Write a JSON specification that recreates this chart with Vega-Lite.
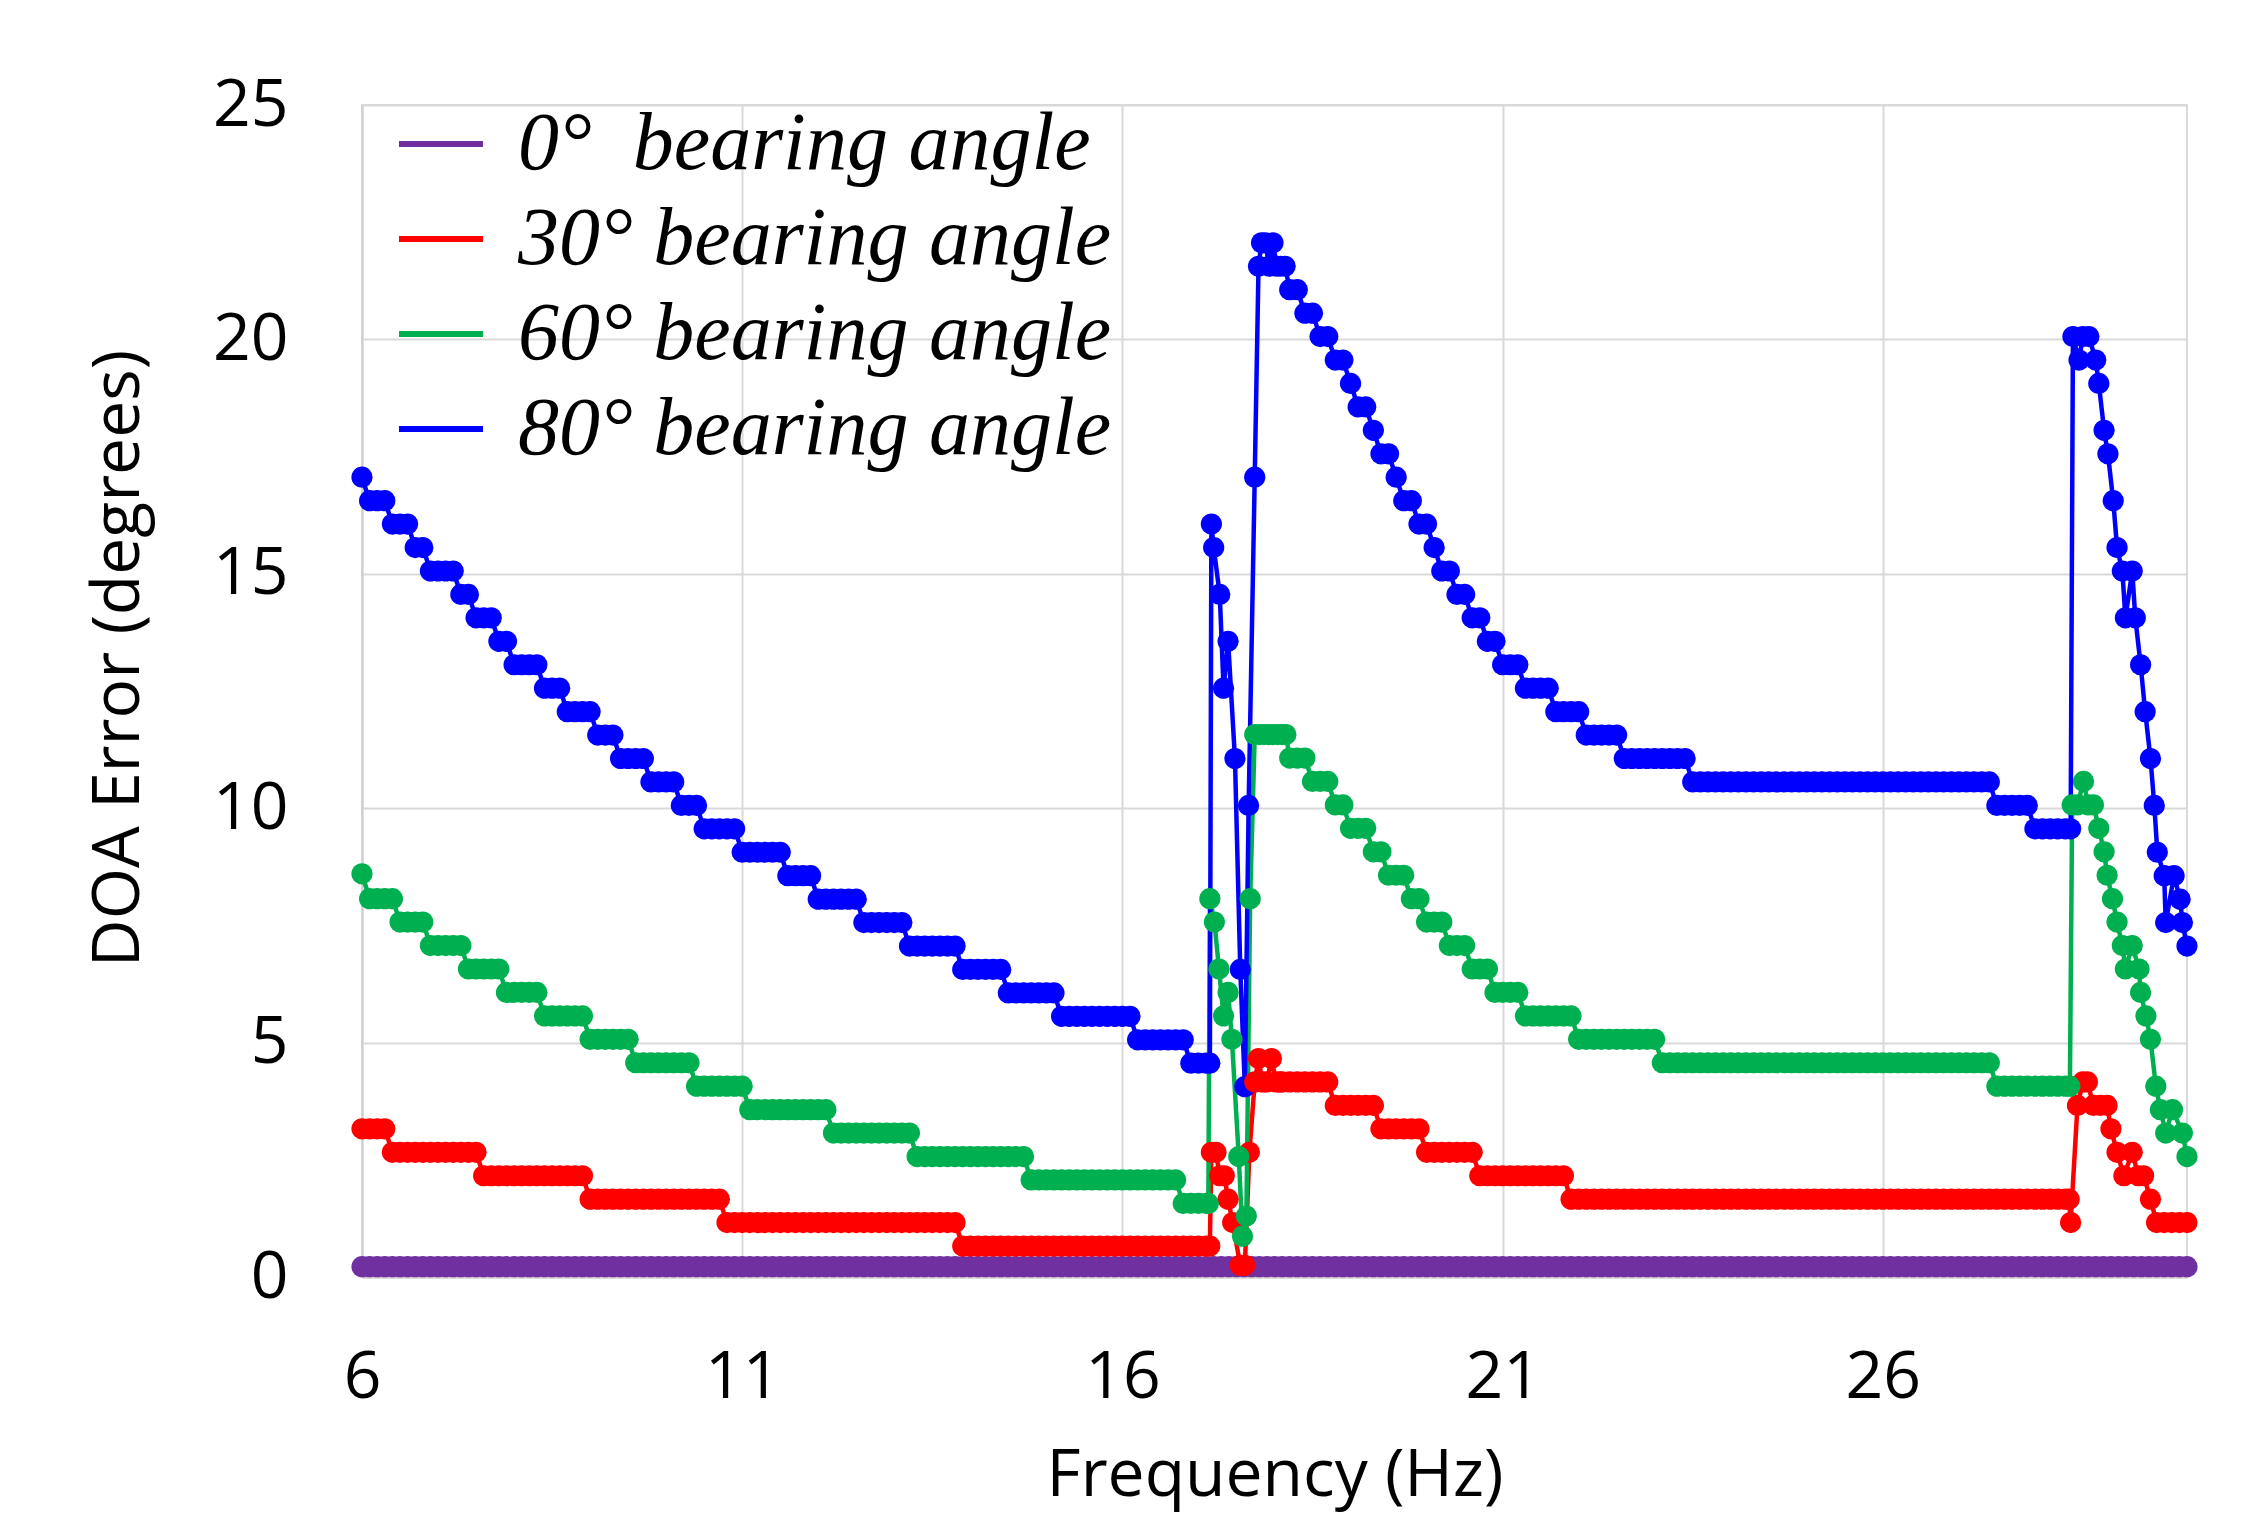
{
"$schema": "https://vega.github.io/schema/vega-lite/v6.json",
"width": 1825, "height": 1172,
"autosize": {"type": "none"},
"padding": {"left": 362, "top": 105, "right": 71, "bottom": 260},
"background": "white",
"data": {"values": [
{"f":6.0,"p":0.22,"r":3.16,"g":8.6,"b":17.06},
{"f":6.1,"p":0.22,"r":3.16,"g":8.07,"b":16.56},
{"f":6.2,"p":0.22,"r":3.16,"g":8.07,"b":16.56},
{"f":6.3,"p":0.22,"r":3.16,"g":8.07,"b":16.56},
{"f":6.4,"p":0.22,"r":2.66,"g":8.07,"b":16.06},
{"f":6.5,"p":0.22,"r":2.66,"g":7.57,"b":16.06},
{"f":6.6,"p":0.22,"r":2.66,"g":7.57,"b":16.06},
{"f":6.7,"p":0.22,"r":2.66,"g":7.57,"b":15.56},
{"f":6.8,"p":0.22,"r":2.66,"g":7.57,"b":15.56},
{"f":6.9,"p":0.22,"r":2.66,"g":7.07,"b":15.06},
{"f":7.0,"p":0.22,"r":2.66,"g":7.07,"b":15.06},
{"f":7.1,"p":0.22,"r":2.66,"g":7.07,"b":15.06},
{"f":7.2,"p":0.22,"r":2.66,"g":7.07,"b":15.06},
{"f":7.3,"p":0.22,"r":2.66,"g":7.07,"b":14.56},
{"f":7.4,"p":0.22,"r":2.66,"g":6.57,"b":14.56},
{"f":7.5,"p":0.22,"r":2.66,"g":6.57,"b":14.06},
{"f":7.6,"p":0.22,"r":2.16,"g":6.57,"b":14.06},
{"f":7.7,"p":0.22,"r":2.16,"g":6.57,"b":14.06},
{"f":7.8,"p":0.22,"r":2.16,"g":6.57,"b":13.56},
{"f":7.9,"p":0.22,"r":2.16,"g":6.07,"b":13.56},
{"f":8.0,"p":0.22,"r":2.16,"g":6.07,"b":13.06},
{"f":8.1,"p":0.22,"r":2.16,"g":6.07,"b":13.06},
{"f":8.2,"p":0.22,"r":2.16,"g":6.07,"b":13.06},
{"f":8.3,"p":0.22,"r":2.16,"g":6.07,"b":13.06},
{"f":8.4,"p":0.22,"r":2.16,"g":5.57,"b":12.56},
{"f":8.5,"p":0.22,"r":2.16,"g":5.57,"b":12.56},
{"f":8.6,"p":0.22,"r":2.16,"g":5.57,"b":12.56},
{"f":8.7,"p":0.22,"r":2.16,"g":5.57,"b":12.06},
{"f":8.8,"p":0.22,"r":2.16,"g":5.57,"b":12.06},
{"f":8.9,"p":0.22,"r":2.16,"g":5.57,"b":12.06},
{"f":9.0,"p":0.22,"r":1.66,"g":5.07,"b":12.06},
{"f":9.1,"p":0.22,"r":1.66,"g":5.07,"b":11.56},
{"f":9.2,"p":0.22,"r":1.66,"g":5.07,"b":11.56},
{"f":9.3,"p":0.22,"r":1.66,"g":5.07,"b":11.56},
{"f":9.4,"p":0.22,"r":1.66,"g":5.07,"b":11.06},
{"f":9.5,"p":0.22,"r":1.66,"g":5.07,"b":11.06},
{"f":9.6,"p":0.22,"r":1.66,"g":4.57,"b":11.06},
{"f":9.7,"p":0.22,"r":1.66,"g":4.57,"b":11.06},
{"f":9.8,"p":0.22,"r":1.66,"g":4.57,"b":10.56},
{"f":9.9,"p":0.22,"r":1.66,"g":4.57,"b":10.56},
{"f":10.0,"p":0.22,"r":1.66,"g":4.57,"b":10.56},
{"f":10.1,"p":0.22,"r":1.66,"g":4.57,"b":10.56},
{"f":10.2,"p":0.22,"r":1.66,"g":4.57,"b":10.06},
{"f":10.3,"p":0.22,"r":1.66,"g":4.57,"b":10.06},
{"f":10.4,"p":0.22,"r":1.66,"g":4.07,"b":10.06},
{"f":10.5,"p":0.22,"r":1.66,"g":4.07,"b":9.56},
{"f":10.6,"p":0.22,"r":1.66,"g":4.07,"b":9.56},
{"f":10.7,"p":0.22,"r":1.66,"g":4.07,"b":9.56},
{"f":10.8,"p":0.22,"r":1.16,"g":4.07,"b":9.56},
{"f":10.9,"p":0.22,"r":1.16,"g":4.07,"b":9.56},
{"f":11.0,"p":0.22,"r":1.16,"g":4.07,"b":9.06},
{"f":11.1,"p":0.22,"r":1.16,"g":3.57,"b":9.06},
{"f":11.2,"p":0.22,"r":1.16,"g":3.57,"b":9.06},
{"f":11.3,"p":0.22,"r":1.16,"g":3.57,"b":9.06},
{"f":11.4,"p":0.22,"r":1.16,"g":3.57,"b":9.06},
{"f":11.5,"p":0.22,"r":1.16,"g":3.57,"b":9.06},
{"f":11.6,"p":0.22,"r":1.16,"g":3.57,"b":8.56},
{"f":11.7,"p":0.22,"r":1.16,"g":3.57,"b":8.56},
{"f":11.8,"p":0.22,"r":1.16,"g":3.57,"b":8.56},
{"f":11.9,"p":0.22,"r":1.16,"g":3.57,"b":8.56},
{"f":12.0,"p":0.22,"r":1.16,"g":3.57,"b":8.06},
{"f":12.1,"p":0.22,"r":1.16,"g":3.57,"b":8.06},
{"f":12.2,"p":0.22,"r":1.16,"g":3.07,"b":8.06},
{"f":12.3,"p":0.22,"r":1.16,"g":3.07,"b":8.06},
{"f":12.4,"p":0.22,"r":1.16,"g":3.07,"b":8.06},
{"f":12.5,"p":0.22,"r":1.16,"g":3.07,"b":8.06},
{"f":12.6,"p":0.22,"r":1.16,"g":3.07,"b":7.56},
{"f":12.7,"p":0.22,"r":1.16,"g":3.07,"b":7.56},
{"f":12.8,"p":0.22,"r":1.16,"g":3.07,"b":7.56},
{"f":12.9,"p":0.22,"r":1.16,"g":3.07,"b":7.56},
{"f":13.0,"p":0.22,"r":1.16,"g":3.07,"b":7.56},
{"f":13.1,"p":0.22,"r":1.16,"g":3.07,"b":7.56},
{"f":13.2,"p":0.22,"r":1.16,"g":3.07,"b":7.06},
{"f":13.3,"p":0.22,"r":1.16,"g":2.57,"b":7.06},
{"f":13.4,"p":0.22,"r":1.16,"g":2.57,"b":7.06},
{"f":13.5,"p":0.22,"r":1.16,"g":2.57,"b":7.06},
{"f":13.6,"p":0.22,"r":1.16,"g":2.57,"b":7.06},
{"f":13.7,"p":0.22,"r":1.16,"g":2.57,"b":7.06},
{"f":13.8,"p":0.22,"r":1.16,"g":2.57,"b":7.06},
{"f":13.9,"p":0.22,"r":0.66,"g":2.57,"b":6.56},
{"f":14.0,"p":0.22,"r":0.66,"g":2.57,"b":6.56},
{"f":14.1,"p":0.22,"r":0.66,"g":2.57,"b":6.56},
{"f":14.2,"p":0.22,"r":0.66,"g":2.57,"b":6.56},
{"f":14.3,"p":0.22,"r":0.66,"g":2.57,"b":6.56},
{"f":14.4,"p":0.22,"r":0.66,"g":2.57,"b":6.56},
{"f":14.5,"p":0.22,"r":0.66,"g":2.57,"b":6.06},
{"f":14.6,"p":0.22,"r":0.66,"g":2.57,"b":6.06},
{"f":14.7,"p":0.22,"r":0.66,"g":2.57,"b":6.06},
{"f":14.8,"p":0.22,"r":0.66,"g":2.07,"b":6.06},
{"f":14.9,"p":0.22,"r":0.66,"g":2.07,"b":6.06},
{"f":15.0,"p":0.22,"r":0.66,"g":2.07,"b":6.06},
{"f":15.1,"p":0.22,"r":0.66,"g":2.07,"b":6.06},
{"f":15.2,"p":0.22,"r":0.66,"g":2.07,"b":5.56},
{"f":15.3,"p":0.22,"r":0.66,"g":2.07,"b":5.56},
{"f":15.4,"p":0.22,"r":0.66,"g":2.07,"b":5.56},
{"f":15.5,"p":0.22,"r":0.66,"g":2.07,"b":5.56},
{"f":15.6,"p":0.22,"r":0.66,"g":2.07,"b":5.56},
{"f":15.7,"p":0.22,"r":0.66,"g":2.07,"b":5.56},
{"f":15.8,"p":0.22,"r":0.66,"g":2.07,"b":5.56},
{"f":15.9,"p":0.22,"r":0.66,"g":2.07,"b":5.56},
{"f":16.0,"p":0.22,"r":0.66,"g":2.07,"b":5.56},
{"f":16.1,"p":0.22,"r":0.66,"g":2.07,"b":5.56},
{"f":16.2,"p":0.22,"r":0.66,"g":2.07,"b":5.06},
{"f":16.3,"p":0.22,"r":0.66,"g":2.07,"b":5.06},
{"f":16.4,"p":0.22,"r":0.66,"g":2.07,"b":5.06},
{"f":16.5,"p":0.22,"r":0.66,"g":2.07,"b":5.06},
{"f":16.6,"p":0.22,"r":0.66,"g":2.07,"b":5.06},
{"f":16.7,"p":0.22,"r":0.66,"g":2.07,"b":5.06},
{"f":16.8,"p":0.22,"r":0.66,"g":1.57,"b":5.06},
{"f":16.9,"p":0.22,"r":0.66,"g":1.57,"b":4.56},
{"f":17.0,"p":0.22,"r":0.66,"g":1.57,"b":4.56},
{"f":17.1,"p":0.22,"r":0.66,"g":1.57,"b":4.56},
{"f":17.2,"p":0.22},{"f":17.3,"p":0.22},{"f":17.4,"p":0.22},{"f":17.5,"p":0.22},{"f":17.6,"p":0.22},
{"f":17.7,"p":0.22},{"f":17.8,"p":0.22},{"f":17.9,"p":0.22},{"f":18.0,"p":0.22},
{"f":18.1,"p":0.22,"r":4.16},
{"f":17.15,"r":0.66,"b":4.56},{"f":17.17,"r":2.66,"b":16.06},{"f":17.23,"r":2.66},{"f":17.28,"r":2.16,"b":14.56},
{"f":17.34,"r":2.16},{"f":17.39,"r":1.66,"b":13.56},{"f":17.45,"r":1.16},{"f":17.55,"r":0.25,"b":6.56},
{"f":17.61,"r":0.25,"b":4.06},{"f":17.67,"r":2.66},{"f":17.74,"r":4.16,"g":11.57,"b":17.06},{"f":17.79,"r":4.66,"b":21.56},
{"f":17.84,"r":4.16},{"f":17.9,"r":4.16},{"f":17.96,"r":4.66},{"f":18.02,"r":4.16},{"f":18.07,"r":4.16},
{"f":17.13,"g":1.57},{"f":17.15,"g":8.07},{"f":17.21,"g":7.57},{"f":17.27,"g":6.57},{"f":17.33,"g":5.57,"b":12.56},
{"f":17.39,"g":6.07},{"f":17.44,"g":5.07},{"f":17.53,"g":2.57},{"f":17.58,"g":0.87},{"f":17.63,"g":1.3},
{"f":17.68,"g":8.07},{"f":17.8,"g":11.57},{"f":17.86,"g":11.57},{"f":17.92,"g":11.57},
{"f":17.98,"g":11.57},{"f":18.04,"g":11.57},{"f":18.1,"g":11.57},{"f":18.15,"g":11.57},
{"f":17.2,"b":15.56},{"f":17.48,"b":11.06},{"f":17.66,"b":10.06},{"f":17.83,"b":22.06},{"f":17.88,"b":22.06},
{"f":17.93,"b":21.56},{"f":17.98,"b":22.06},{"f":18.03,"b":21.56},{"f":18.08,"b":21.56},{"f":18.14,"b":21.56},
{"f":18.2,"p":0.22,"r":4.16,"g":11.07,"b":21.06},
{"f":18.3,"p":0.22,"r":4.16,"g":11.07,"b":21.06},
{"f":18.4,"p":0.22,"r":4.16,"g":11.07,"b":20.56},
{"f":18.5,"p":0.22,"r":4.16,"g":10.57,"b":20.56},
{"f":18.6,"p":0.22,"r":4.16,"g":10.57,"b":20.06},
{"f":18.7,"p":0.22,"r":4.16,"g":10.57,"b":20.06},
{"f":18.8,"p":0.22,"r":3.66,"g":10.07,"b":19.56},
{"f":18.9,"p":0.22,"r":3.66,"g":10.07,"b":19.56},
{"f":19.0,"p":0.22,"r":3.66,"g":9.57,"b":19.06},
{"f":19.1,"p":0.22,"r":3.66,"g":9.57,"b":18.56},
{"f":19.2,"p":0.22,"r":3.66,"g":9.57,"b":18.56},
{"f":19.3,"p":0.22,"r":3.66,"g":9.07,"b":18.06},
{"f":19.4,"p":0.22,"r":3.16,"g":9.07,"b":17.56},
{"f":19.5,"p":0.22,"r":3.16,"g":8.57,"b":17.56},
{"f":19.6,"p":0.22,"r":3.16,"g":8.57,"b":17.06},
{"f":19.7,"p":0.22,"r":3.16,"g":8.57,"b":16.56},
{"f":19.8,"p":0.22,"r":3.16,"g":8.07,"b":16.56},
{"f":19.9,"p":0.22,"r":3.16,"g":8.07,"b":16.06},
{"f":20.0,"p":0.22,"r":2.66,"g":7.57,"b":16.06},
{"f":20.1,"p":0.22,"r":2.66,"g":7.57,"b":15.56},
{"f":20.2,"p":0.22,"r":2.66,"g":7.57,"b":15.06},
{"f":20.3,"p":0.22,"r":2.66,"g":7.07,"b":15.06},
{"f":20.4,"p":0.22,"r":2.66,"g":7.07,"b":14.56},
{"f":20.5,"p":0.22,"r":2.66,"g":7.07,"b":14.56},
{"f":20.6,"p":0.22,"r":2.66,"g":6.57,"b":14.06},
{"f":20.7,"p":0.22,"r":2.16,"g":6.57,"b":14.06},
{"f":20.8,"p":0.22,"r":2.16,"g":6.57,"b":13.56},
{"f":20.9,"p":0.22,"r":2.16,"g":6.07,"b":13.56},
{"f":21.0,"p":0.22,"r":2.16,"g":6.07,"b":13.06},
{"f":21.1,"p":0.22,"r":2.16,"g":6.07,"b":13.06},
{"f":21.2,"p":0.22,"r":2.16,"g":6.07,"b":13.06},
{"f":21.3,"p":0.22,"r":2.16,"g":5.57,"b":12.56},
{"f":21.4,"p":0.22,"r":2.16,"g":5.57,"b":12.56},
{"f":21.5,"p":0.22,"r":2.16,"g":5.57,"b":12.56},
{"f":21.6,"p":0.22,"r":2.16,"g":5.57,"b":12.56},
{"f":21.7,"p":0.22,"r":2.16,"g":5.57,"b":12.06},
{"f":21.8,"p":0.22,"r":2.16,"g":5.57,"b":12.06},
{"f":21.9,"p":0.22,"r":1.66,"g":5.57,"b":12.06},
{"f":22.0,"p":0.22,"r":1.66,"g":5.07,"b":12.06},
{"f":22.1,"p":0.22,"r":1.66,"g":5.07,"b":11.56},
{"f":22.2,"p":0.22,"r":1.66,"g":5.07,"b":11.56},
{"f":22.3,"p":0.22,"r":1.66,"g":5.07,"b":11.56},
{"f":22.4,"p":0.22,"r":1.66,"g":5.07,"b":11.56},
{"f":22.5,"p":0.22,"r":1.66,"g":5.07,"b":11.56},
{"f":22.6,"p":0.22,"r":1.66,"g":5.07,"b":11.06},
{"f":22.7,"p":0.22,"r":1.66,"g":5.07,"b":11.06},
{"f":22.8,"p":0.22,"r":1.66,"g":5.07,"b":11.06},
{"f":22.9,"p":0.22,"r":1.66,"g":5.07,"b":11.06},
{"f":23.0,"p":0.22,"r":1.66,"g":5.07,"b":11.06},
{"f":23.1,"p":0.22,"r":1.66,"g":4.57,"b":11.06},
{"f":23.2,"p":0.22,"r":1.66,"g":4.57,"b":11.06},
{"f":23.3,"p":0.22,"r":1.66,"g":4.57,"b":11.06},
{"f":23.4,"p":0.22,"r":1.66,"g":4.57,"b":11.06},
{"f":23.5,"p":0.22,"r":1.66,"g":4.57,"b":10.56},
{"f":23.6,"p":0.22,"r":1.66,"g":4.57,"b":10.56},
{"f":23.7,"p":0.22,"r":1.66,"g":4.57,"b":10.56},
{"f":23.8,"p":0.22,"r":1.66,"g":4.57,"b":10.56},
{"f":23.9,"p":0.22,"r":1.66,"g":4.57,"b":10.56},
{"f":24.0,"p":0.22,"r":1.66,"g":4.57,"b":10.56},
{"f":24.1,"p":0.22,"r":1.66,"g":4.57,"b":10.56},
{"f":24.2,"p":0.22,"r":1.66,"g":4.57,"b":10.56},
{"f":24.3,"p":0.22,"r":1.66,"g":4.57,"b":10.56},
{"f":24.4,"p":0.22,"r":1.66,"g":4.57,"b":10.56},
{"f":24.5,"p":0.22,"r":1.66,"g":4.57,"b":10.56},
{"f":24.6,"p":0.22,"r":1.66,"g":4.57,"b":10.56},
{"f":24.7,"p":0.22,"r":1.66,"g":4.57,"b":10.56},
{"f":24.8,"p":0.22,"r":1.66,"g":4.57,"b":10.56},
{"f":24.9,"p":0.22,"r":1.66,"g":4.57,"b":10.56},
{"f":25.0,"p":0.22,"r":1.66,"g":4.57,"b":10.56},
{"f":25.1,"p":0.22,"r":1.66,"g":4.57,"b":10.56},
{"f":25.2,"p":0.22,"r":1.66,"g":4.57,"b":10.56},
{"f":25.3,"p":0.22,"r":1.66,"g":4.57,"b":10.56},
{"f":25.4,"p":0.22,"r":1.66,"g":4.57,"b":10.56},
{"f":25.5,"p":0.22,"r":1.66,"g":4.57,"b":10.56},
{"f":25.6,"p":0.22,"r":1.66,"g":4.57,"b":10.56},
{"f":25.7,"p":0.22,"r":1.66,"g":4.57,"b":10.56},
{"f":25.8,"p":0.22,"r":1.66,"g":4.57,"b":10.56},
{"f":25.9,"p":0.22,"r":1.66,"g":4.57,"b":10.56},
{"f":26.0,"p":0.22,"r":1.66,"g":4.57,"b":10.56},
{"f":26.1,"p":0.22,"r":1.66,"g":4.57,"b":10.56},
{"f":26.2,"p":0.22,"r":1.66,"g":4.57,"b":10.56},
{"f":26.3,"p":0.22,"r":1.66,"g":4.57,"b":10.56},
{"f":26.4,"p":0.22,"r":1.66,"g":4.57,"b":10.56},
{"f":26.5,"p":0.22,"r":1.66,"g":4.57,"b":10.56},
{"f":26.6,"p":0.22,"r":1.66,"g":4.57,"b":10.56},
{"f":26.7,"p":0.22,"r":1.66,"g":4.57,"b":10.56},
{"f":26.8,"p":0.22,"r":1.66,"g":4.57,"b":10.56},
{"f":26.9,"p":0.22,"r":1.66,"g":4.57,"b":10.56},
{"f":27.0,"p":0.22,"r":1.66,"g":4.57,"b":10.56},
{"f":27.1,"p":0.22,"r":1.66,"g":4.57,"b":10.56},
{"f":27.2,"p":0.22,"r":1.66,"g":4.57,"b":10.56},
{"f":27.3,"p":0.22,"r":1.66,"g":4.57,"b":10.56},
{"f":27.4,"p":0.22,"r":1.66,"g":4.57,"b":10.56},
{"f":27.5,"p":0.22,"r":1.66,"g":4.07,"b":10.06},
{"f":27.6,"p":0.22,"r":1.66,"g":4.07,"b":10.06},
{"f":27.7,"p":0.22,"r":1.66,"g":4.07,"b":10.06},
{"f":27.8,"p":0.22,"r":1.66,"g":4.07,"b":10.06},
{"f":27.9,"p":0.22,"r":1.66,"g":4.07,"b":10.06},
{"f":28.0,"p":0.22,"r":1.66,"g":4.07,"b":9.56},
{"f":28.1,"p":0.22,"r":1.66,"g":4.07,"b":9.56},
{"f":28.2,"p":0.22,"r":1.66,"g":4.07,"b":9.56},
{"f":28.3,"p":0.22,"r":1.66,"g":4.07,"b":9.56},
{"f":28.4,"p":0.22,"r":1.66,"g":4.07,"b":9.56},
{"f":28.5,"p":0.22},{"f":28.6,"p":0.22},{"f":28.7,"p":0.22},{"f":28.8,"p":0.22},{"f":28.9,"p":0.22},
{"f":29.0,"p":0.22},{"f":29.1,"p":0.22},{"f":29.2,"p":0.22},{"f":29.3,"p":0.22},{"f":29.4,"p":0.22},
{"f":29.5,"p":0.22},{"f":29.6,"p":0.22},{"f":29.7,"p":0.22},{"f":29.8,"p":0.22},{"f":29.9,"p":0.22},
{"f":30.0,"p":0.22},
{"f":28.45,"r":1.66},{"f":28.47,"r":1.16,"b":9.56},{"f":28.56,"r":3.66},{"f":28.63,"r":4.16,"b":20.06},{"f":28.69,"r":4.16},
{"f":28.77,"r":3.66,"g":10.07},{"f":28.86,"r":3.66},{"f":28.95,"r":3.66,"g":8.57},{"f":29.0,"r":3.16},{"f":29.08,"r":2.66,"g":7.57,"b":15.56},
{"f":29.17,"r":2.16},{"f":29.28,"r":2.66,"g":7.07,"b":15.06},{"f":29.36,"r":2.16},{"f":29.43,"r":2.16},{"f":29.52,"r":1.66,"g":5.07,"b":11.06},
{"f":29.6,"r":1.16},{"f":29.7,"r":1.16,"b":8.56},{"f":29.8,"r":1.16},{"f":29.9,"r":1.16},{"f":30.0,"r":1.16,"g":2.57,"b":7.06},
{"f":28.46,"g":4.07},{"f":28.49,"g":10.07},{"f":28.56,"g":10.07},{"f":28.64,"g":10.57},{"f":28.7,"g":10.07},
{"f":28.84,"g":9.57,"b":19.06},{"f":28.91,"g":9.07,"b":18.06},{"f":29.02,"g":8.07},{"f":29.15,"g":7.07,"b":15.06},{"f":29.19,"g":6.57,"b":14.06},
{"f":29.37,"g":6.57},{"f":29.39,"g":6.07,"b":13.06},{"f":29.46,"g":5.57},{"f":29.59,"g":4.07},{"f":29.65,"g":3.57},
{"f":29.72,"g":3.07,"b":7.56},{"f":29.81,"g":3.57},{"f":29.94,"g":3.07,"b":7.56},
{"f":28.5,"b":20.06},{"f":28.58,"b":19.56},{"f":28.71,"b":20.06},{"f":28.8,"b":19.56},{"f":28.96,"b":17.56},
{"f":29.03,"b":16.56},{"f":29.32,"b":14.06},{"f":29.45,"b":12.06},{"f":29.57,"b":10.06},{"f":29.61,"b":9.06},
{"f":29.83,"b":8.56},{"f":29.91,"b":8.06}
]},
"transform": [
  {"fold": ["p", "r", "g", "b"], "as": ["s", "v"]},
  {"filter": "isValid(datum.v)"}
],
"encoding": {
  "x": {"field": "f", "type": "quantitative",
    "scale": {"domain": [6, 30], "nice": false, "zero": false},
    "axis": {"values": [6, 11, 16, 21, 26], "title": "Frequency (Hz)", "labelBaseline": "alphabetic", "labelPadding": 120, "labelFlush": false,
             "titleY": 218, "titleBaseline": "alphabetic", "titleAnchor": "middle"}},
  "y": {"field": "v", "type": "quantitative",
    "scale": {"domain": [0, 25], "nice": false},
    "axis": {"values": [0, 5, 10, 15, 20, 25], "title": "DOA Error (degrees)", "labelPadding": 74, "labelFlush": false,
             "titleX": -244, "titleY": 553, "titleAngle": -90, "titleAlign": "center", "titleBaseline": "middle"}},
  "color": {"field": "s", "type": "nominal",
    "scale": {"domain": ["p", "r", "g", "b"], "range": ["#7030A0", "#FF0000", "#00B050", "#0000FF"]},
    "legend": {"orient": "none", "legendX": 34, "legendY": -6, "title": null, "padding": 0,
      "symbolType": "stroke", "symbolStrokeWidth": 6, "symbolSize": 7056,
      "labelFont": "Liberation Serif", "labelFontStyle": "italic", "labelFontSize": 82, "labelColor": "#000",
      "labelBaseline": "middle", "labelOffset": 32, "rowPadding": 9, "labelLimit": 0,
      "labelExpr": "{'p':'0°\u00a0\u00a0bearing angle','r':'30° bearing angle','g':'60° bearing angle','b':'80° bearing angle'}[datum.label]"}}
},
"layer": [
  {"mark": {"type": "line", "strokeWidth": 4.5, "clip": false}},
  {"mark": {"type": "circle", "size": 450, "opacity": 1, "clip": false}}
],
"config": {
  "view": {"stroke": "#d9d9d9", "strokeWidth": 2},
  "axis": {"grid": true, "gridColor": "#d9d9d9", "gridWidth": 2, "domainColor": "#cfcfcf", "domainWidth": 2,
           "ticks": false, "labelFont": "Open Sans", "labelFontSize": 66, "labelColor": "#000",
           "titleFont": "Open Sans", "titleFontSize": 66, "titleFontWeight": "normal", "titleColor": "#000"}
}
}
